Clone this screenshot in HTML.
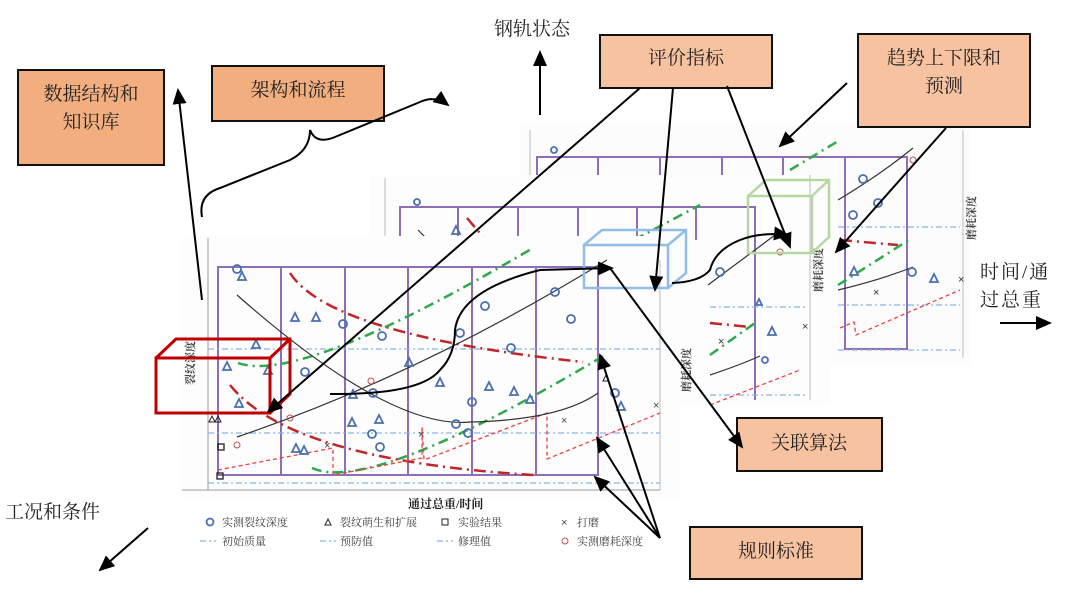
<!DOCTYPE html>
<html><head><meta charset="utf-8"><style>
html,body{margin:0;padding:0;background:#fff;}
svg{display:block;font-family:"Liberation Sans","Noto Sans CJK SC",sans-serif;}
.box{fill:#f7c2a0;stroke:#111;stroke-width:2;}
.box2{fill:#f3ae80;stroke:#111;stroke-width:2;}
.t{font-family:"Liberation Serif","Noto Serif CJK SC","Noto Sans CJK SC",serif;font-size:19px;fill:#222;}
.pp{fill:none;stroke:#8e6fb5;stroke-width:2;}
.bl{stroke:#8ab4e8;stroke-width:1.3;stroke-dasharray:6 3 2 3;fill:none;}
.gr{stroke:#2ea84a;stroke-width:2.5;stroke-dasharray:10 5 2 5;fill:none;}
.rd{stroke:#c0252a;stroke-width:2.5;stroke-dasharray:12 5 2 5;fill:none;}
.rs{stroke:#f04040;stroke-width:1.3;stroke-dasharray:4 3;fill:none;}
.bk{stroke:#333;stroke-width:1.2;fill:none;}
.ar{stroke:#000;stroke-width:2;fill:none;marker-end:url(#ah);}
.c{fill:none;stroke:#4a6fb0;stroke-width:1.8;}
.tr{fill:none;stroke:#4a6fb0;stroke-width:1.8;}
.lg{font-size:11px;fill:#444;font-family:"Liberation Serif","Noto Serif CJK SC",serif;}
</style></head><body>
<svg width="1080" height="598" viewBox="0 0 1080 598">
<defs>
<marker id="ah" markerWidth="16" markerHeight="14" refX="14" refY="7" orient="auto" markerUnits="userSpaceOnUse" viewBox="0 0 16 14"><path d="M0,0 L16,7 L0,14 z" fill="#000"/></marker>
</defs>

<rect x="520" y="125" width="450" height="240" fill="#fcfcfc"/>
<line x1="963" y1="130" x2="963" y2="358" stroke="#bbb"/>
<line x1="530" y1="130" x2="530" y2="175" stroke="#bbb"/>
<path class="pp" d="M537,175 V157 H907 V349 H845 V157 M598,157 V175 M660,157 V175 M722,157 V175 M783,157 V175"/>
<circle class="c" cx="554" cy="150" r="3"/>
<path class="bk" d="M838,200 Q880,175 913,148"/>
<path class="gr" d="M790,170 L840,140"/>
<path class="bl" d="M838,227 H960 M838,305 H960 M838,350 H960"/>
<path class="rd" d="M840,240 L898,245"/>
<path class="gr" d="M838,285 L912,238"/>
<path class="bk" d="M838,290 Q880,280 913,267"/>
<path class="rs" d="M840,328 L854,322 L856,335 L960,290"/>
<circle class="c" cx="863" cy="179" r="4"/><circle class="c" cx="878" cy="203" r="4"/><circle class="c" cx="853" cy="215" r="4"/><circle class="c" cx="912" cy="272" r="4"/>
<circle cx="913" cy="160" r="3" fill="none" stroke="#c05050"/>
<text x="873" y="296" font-size="11" fill="#333">×</text><text x="958" y="283" font-size="11" fill="#333">×</text>
<path class="tr" d="M930,282 l4,-8 l4,8z M850,275 l4,-8 l4,8z"/>
<text class="lg" transform="translate(975,240) rotate(-90)" font-weight="bold">磨耗深度</text>

<rect x="370" y="175" width="460" height="230" fill="#fdfdfd"/>
<line x1="385" y1="178" x2="385" y2="238" stroke="#bbb"/>
<line x1="810" y1="175" x2="810" y2="400" stroke="#bbb"/>
<path class="pp" d="M400,240 V207 H755 V400 M458,207 V240 M518,207 V240 M578,207 V240 M637,207 V240 M696,207 V240"/>
<circle class="c" cx="417" cy="202" r="3"/>
<path class="bk" d="M418,230 L428,240"/>
<path class="rd" d="M467,218 L490,245"/>
<path class="gr" d="M615,250 L700,205"/>
<path class="tr" d="M452,234 l4,-8 l4,8z"/>
<path class="bk" d="M708,285 L775,235"/>
<path class="bl" d="M710,307 H805 M710,395 H805"/>
<path class="rd" d="M710,323 L750,327"/>
<path class="gr" d="M710,355 L755,323"/>
<path class="bk" d="M710,375 Q740,365 760,356"/>
<path class="rs" d="M710,405 L800,370"/>
<circle class="c" cx="720" cy="272" r="4"/><circle class="c" cx="765" cy="360" r="3"/>
<circle cx="780" cy="252" r="3" fill="none" stroke="#c05050"/>
<text x="718" y="345" font-size="11" fill="#333">×</text><text x="802" y="330" font-size="11" fill="#333">×</text>
<path class="tr" d="M756,305 l3,-6 l3,6z M768,335 l4,-8 l4,8z"/>
<text class="lg" transform="translate(822,292) rotate(-90)" font-weight="bold">磨耗深度</text>

<rect x="180" y="236" width="500" height="262" fill="#fdfdfd"/>
<line x1="208" y1="238" x2="208" y2="490" stroke="#999"/>
<line x1="182" y1="490" x2="660" y2="490" stroke="#999"/>
<line x1="660" y1="260" x2="660" y2="490" stroke="#bbb"/>
<path class="pp" d="M218,267 H598 V475 H218 Z M281,267 V475 M345,267 V475 M408,267 V475 M472,267 V475 M536,267 V475"/>
<path class="bl" d="M208,349 H660 M208,433 H660 M208,483 H660"/>
<path class="rd" d="M290,273 Q330,335 583,362"/>
<path class="rd" d="M230,385 Q290,460 533,475"/>
<path class="gr" d="M238,363 Q300,385 533,248"/>
<path class="gr" d="M312,468 Q370,495 605,355"/>
<path class="rs" d="M218,470 L333,448 L333,475 L422,458 L422,427 L424,460 L547,413 L547,459 L660,413"/>
<path class="bk" d="M237,295 Q390,430 470,422 Q560,420 598,393"/>
<path class="bk" d="M237,437 Q420,375 607,260"/>
<g class="c">
<circle cx="237" cy="269" r="4"/><circle cx="343" cy="324" r="4"/><circle cx="382" cy="336" r="4"/><circle cx="460" cy="333" r="4"/><circle cx="485" cy="306" r="4"/><circle cx="555" cy="292" r="4"/><circle cx="571" cy="319" r="4"/><circle cx="511" cy="348" r="4"/><circle cx="305" cy="372" r="4"/><circle cx="373" cy="393" r="4"/><circle cx="372" cy="434" r="4"/><circle cx="456" cy="424" r="4"/><circle cx="468" cy="433" r="4"/><circle cx="380" cy="447" r="4"/><circle cx="615" cy="393" r="4"/><circle cx="472" cy="402" r="4"/>
</g>
<g class="tr">
<path d="M238,280 l4,-8 l4,8z M291,321 l4,-8 l4,8z M312,321 l4,-8 l4,8z M252,348 l4,-8 l4,8z M223,370 l4,-8 l4,8z M264,374 l4,-8 l4,8z M235,407 l4,-8 l4,8z M349,398 l4,-8 l4,8z M300,454 l4,-8 l4,8z M348,426 l4,-8 l4,8z M375,423 l4,-8 l4,8z M405,366 l4,-8 l4,8z M436,386 l4,-8 l4,8z M485,390 l4,-8 l4,8z M526,403 l4,-8 l4,8z M510,395 l4,-8 l4,8z M617,410 l4,-8 l4,8z M292,452 l4,-8 l4,8z"/>
</g>
<path d="M209,422 l3,-6 l3,6z M215,422 l3,-6 l3,6z M603,381 l3,-6 l3,6z" fill="none" stroke="#222"/>
<rect x="218" y="444" width="6" height="6" fill="none" stroke="#222" stroke-width="1.3"/>
<rect x="217" y="473" width="6" height="6" fill="none" stroke="#222" stroke-width="1.3"/>
<circle cx="237" cy="445" r="3" fill="none" stroke="#c05050"/><circle cx="290" cy="418" r="3" fill="none" stroke="#c05050"/><circle cx="371" cy="381" r="3" fill="none" stroke="#c05050"/>
<text x="324" y="449" font-size="11" fill="#444">×</text><text x="418" y="438" font-size="11" fill="#444">×</text><text x="561" y="424" font-size="11" fill="#444">×</text><text x="653" y="409" font-size="11" fill="#444">×</text>
<text class="lg" transform="translate(194,385) rotate(-90)" font-weight="bold" font-size="12">裂纹深度</text>
<text class="lg" transform="translate(690,392) rotate(-90)" font-weight="bold">磨耗深度</text>
<text x="408" y="508" font-size="12" font-weight="bold" fill="#222" font-family="Liberation Serif,Noto Serif CJK SC,serif">通过总重/时间</text>
<circle class="c" cx="210" cy="522" r="3.5" stroke-width="1.2"/><text class="lg" x="222" y="526">实测裂纹深度</text>
<path d="M325,525 l3,-6 l3,6z" fill="none" stroke="#222"/><text class="lg" x="340" y="526">裂纹萌生和扩展</text>
<rect x="442" y="519" width="6" height="6" fill="none" stroke="#222"/><text class="lg" x="458" y="526">实验结果</text>
<text x="561" y="526" font-size="11" fill="#444">×</text><text class="lg" x="577" y="526">打磨</text>
<path class="bl" d="M200,541 H216"/><text class="lg" x="222" y="545">初始质量</text>
<path class="bl" d="M320,541 H336"/><text class="lg" x="340" y="545">预防值</text>
<path class="bl" d="M437,541 H453"/><text class="lg" x="458" y="545">修理值</text>
<circle cx="565" cy="541" r="3" fill="none" stroke="#c05050"/><text class="lg" x="577" y="545">实测磨耗深度</text>

<g fill="none" stroke="#c00000" stroke-width="3">
<rect x="156" y="358" width="114" height="55"/><path d="M156,358 L176,339 H290 V394 L270,413 M270,358 L290,339"/>
</g>
<g fill="none" stroke="#92bde6" stroke-width="2.5">
<rect x="584" y="245" width="84" height="43"/><path d="M584,245 L602,230 H686 V273 L668,288 M668,245 L686,230"/>
</g>
<g fill="none" stroke="#b5d7a0" stroke-width="2.5">
<rect x="748" y="196" width="64" height="57"/><path d="M748,196 L766,180 H829 V237 L812,253 M812,196 L829,180"/>
</g>

<rect class="box2" x="18" y="70" width="146" height="95"/>
<text class="t" x="91" y="100" text-anchor="middle">数据结构和</text><text class="t" x="91" y="128" text-anchor="middle">知识库</text>
<rect class="box2" x="212" y="66" width="172" height="55"/><text class="t" x="298" y="96" text-anchor="middle">架构和流程</text>
<rect class="box" x="600" y="35" width="172" height="53"/><text class="t" x="686" y="64" text-anchor="middle">评价指标</text>
<rect class="box" x="858" y="34" width="172" height="93"/><text class="t" x="944" y="64" text-anchor="middle">趋势上下限和</text><text class="t" x="944" y="92" text-anchor="middle">预测</text>
<rect class="box" x="737" y="418" width="145" height="53"/><text class="t" x="809" y="449" text-anchor="middle">关联算法</text>
<rect class="box" x="690" y="527" width="172" height="52"/><text class="t" x="776" y="557" text-anchor="middle">规则标准</text>

<text class="t" x="494" y="35">钢轨状态</text>
<text class="t" x="980" y="278" letter-spacing="2">时间/通</text>
<text class="t" x="980" y="306" letter-spacing="2">过总重</text>
<text class="t" x="5" y="518">工况和条件</text>

<path class="ar" d="M202,300 L178,90"/>
<path d="M202,217 Q198,195 220,188 L290,160 Q310,150 310,130 Q316,145 335,137 L420,102 Q435,95 448,105" fill="none" stroke="#000" stroke-width="2" marker-end="url(#ah)"/>
<path class="ar" d="M540,115 L540,52"/>
<path class="ar" d="M148,528 L100,570"/>
<path class="ar" d="M1000,323 L1050,323"/>
<path class="ar" d="M640,88 L268,412"/>
<path class="ar" d="M673,88 L655,290"/>
<path class="ar" d="M727,86 L790,247"/>
<path class="ar" d="M847,83 L780,146"/>
<path class="ar" d="M946,128 L836,252"/>
<path class="ar" d="M330,394 Q420,395 440,370 Q455,355 455,330 Q460,290 540,270 L612,268"/>
<path class="ar" d="M672,283 Q700,282 710,270 Q715,250 740,240 Q760,232 788,235"/>
<path class="ar" d="M610,268 L742,447"/>
<path class="ar" d="M660,538 L595,477"/>
<path class="ar" d="M660,538 L597,438"/>
<path class="ar" d="M660,538 L600,355"/>
</svg>
</body></html>
